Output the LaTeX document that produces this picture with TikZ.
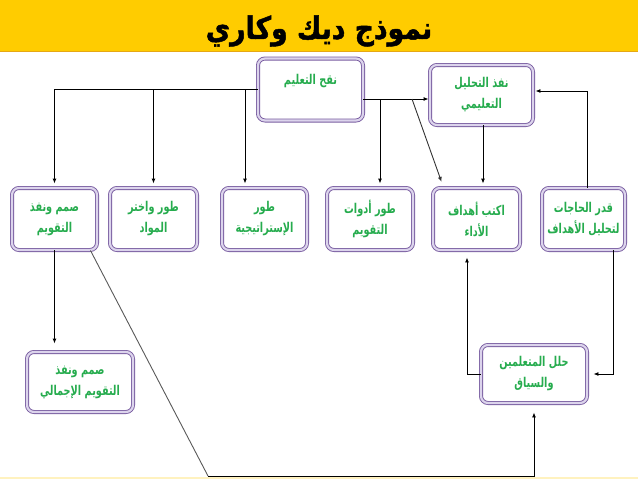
\documentclass[tikz,border=0pt]{standalone}
\usepackage{fontspec}
\usetikzlibrary{positioning,arrows.meta,calc}
\newfontfamily\arabicfont[Script=Arabic, FakeStretch=0.72]{DejaVu Sans}
\newfontfamily\titlefont[Script=Arabic, FakeStretch=0.86, FakeBold=1.5]{DejaVu Sans}
\TeXXeTstate=1
\newcommand{\artxt}[1]{\beginR #1\endR}
\definecolor{titlegold}{RGB}{255,204,0}
\definecolor{titleedge}{RGB}{230,168,20}
\definecolor{boxline}{RGB}{120,92,160}
\definecolor{boxfill}{RGB}{220,212,236}
\definecolor{textgreen}{RGB}{38,172,78}

\begin{document}
\begin{tikzpicture}[x=1pt, y=-1pt,
  stepbox/.style={draw=boxline, double=boxfill, double distance=2.2pt,
    line width=0.9pt, rounded corners=7pt, fill=white, align=center,
    minimum width=86pt, minimum height=62pt, inner sep=1pt,
    text=textgreen, font=\arabicfont\bfseries\fontsize{13.5}{21}\selectfont},
  arrow/.style={-{Latex[length=5pt,width=4pt]}, line width=0.9pt, shorten >=4pt},
  slant/.style={line width=0.9pt, black!65}
]
\useasboundingbox (0,0) rectangle (638,479);
\fill[titlegold] (0,0) rectangle (638,52);
\draw[titleedge, line width=1.2pt] (0,51.4) -- (638,51.4);
\fill[titlegold!25] (0,477) rectangle (638,479);
\node[font=\titlefont\bfseries\fontsize{31}{34}\selectfont] (title) at (319,31)
  {\artxt{نموذج ديك وكاري}};

% top row
\node[stepbox, minimum width=105pt, text depth=20pt] (nakh) at (310.5,89.5)
  {\artxt{نقح التعليم}};
\node[stepbox, minimum width=103pt, minimum height=60pt] (tahlil) at (481.5,95)
  {\artxt{نفذ التحليل}\\\artxt{التعليمي}};

% middle row
\node[stepbox, minimum width=85pt] (samim) at (54.5,219)
  {\artxt{صمم ونفذ}\\\artxt{التقويم}};
\node[stepbox, minimum width=87pt] (mawad) at (153.5,219)
  {\artxt{طور واختر}\\\artxt{المواد}};
\node[stepbox, minimum width=85pt] (strat) at (264.5,219)
  {\artxt{طور}\\\artxt{الإستراتيجية}};
\node[stepbox] (adawat) at (370,219)
  {\artxt{طور أدوات}\\\artxt{التقويم}};
\node[stepbox, minimum width=87pt] (ahdaf) at (476.5,219)
  {\artxt{اكتب أهداف}\\\artxt{الأداء}};
\node[stepbox, minimum width=83pt] (qadr) at (583.5,219)
  {\artxt{قدر الحاجات}\\\artxt{لتحليل الأهداف}};

% bottom row
\node[stepbox, minimum width=106pt, minimum height=60pt] (total) at (80,382)
  {\artxt{صمم ونفذ}\\\artxt{التقويم الإجمالي}};
\node[stepbox, minimum width=106pt, minimum height=58pt] (halil) at (534,374)
  {\artxt{حلل المتعلمين}\\\artxt{والسياق}};

% junctions
\coordinate (jstrat) at (245,89.5);
\coordinate (jright) at (363,99);
\coordinate (jtools) at (380,99);
\coordinate (jgoals) at (412,99);
\coordinate (low) at (208,476);

\draw[arrow] (nakh.west) -| (samim.north);
\draw[arrow] (nakh.west -| mawad.north) -- (mawad.north);
\draw[arrow] (jstrat) -- (jstrat |- strat.north);
\draw[arrow, shorten >=1pt] (jright) -- (jright -| tahlil.west);
\draw[arrow] (jtools) -- (jtools |- adawat.north);
\draw[arrow, black!80, shorten >=6pt] (jgoals) -- ($(ahdaf.north west)+(11,0)$);
\draw[arrow] (tahlil.south -| 483,0) -- (483,0 |- ahdaf.north);
\draw[arrow, shorten >=2pt] (qadr.north -| 587,0) |- ([yshift=4pt]tahlil.east);
\draw[arrow, shorten >=6pt] (qadr.south -| 613,0) |- (halil.east);
\draw[arrow, shorten >=7pt] (halil.west) -| (467,0 |- ahdaf.south);
\draw[arrow, shorten >=8pt] (samim.south) -- (samim.south |- total.north);
\draw[slant] ($(samim.south east)+(-7,0)$) -- (low);
\draw[arrow, shorten >=9pt] (low) -| (halil.south);
\end{tikzpicture}
\end{document}
